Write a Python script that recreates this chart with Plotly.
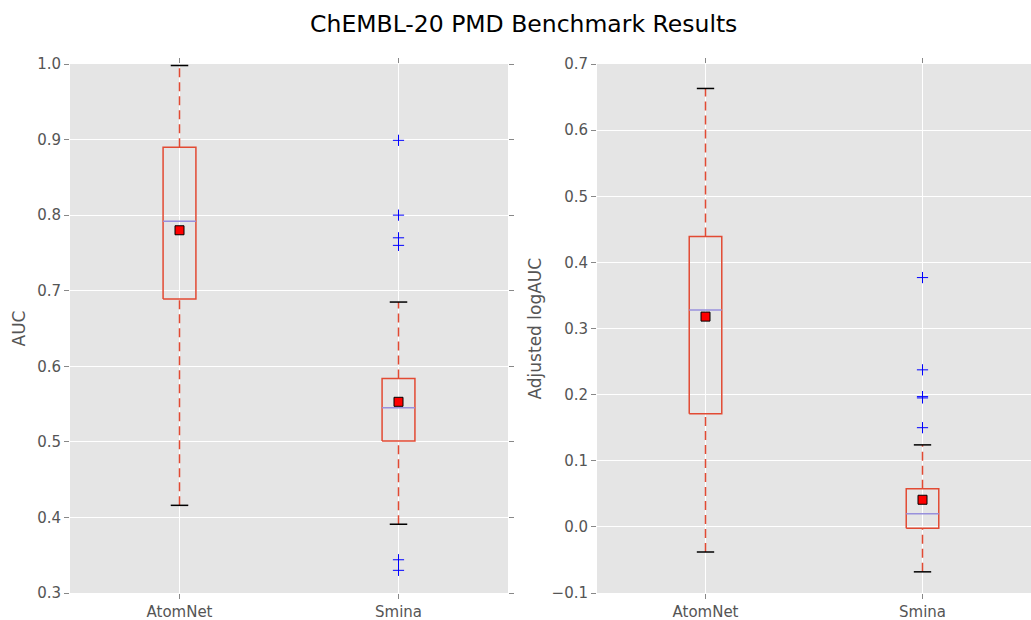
import plotly.graph_objects as go

# ---- data ----
methods = ["AtomNet", "Smina"]

auc_q1 = [0.689, 0.501]
auc_median = [0.792, 0.545]
auc_q3 = [0.890, 0.584]
auc_low = [0.416, 0.391]
auc_high = [0.998, 0.685]
auc_mean = [0.780, 0.553]
auc_outliers = [[], [0.899, 0.800, 0.770, 0.760, 0.344, 0.330]]

log_q1 = [0.171, -0.002]
log_median = [0.328, 0.020]
log_q3 = [0.439, 0.0575]
log_low = [-0.038, -0.068]
log_high = [0.663, 0.124]
log_mean = [0.318, 0.041]
log_outliers = [[], [0.377, 0.2375, 0.197, 0.195, 0.150]]

# ---- styling ----
BOX_C = "#E24A33"
MED_C = "#9890DC"
BG = "#E5E5E5"
TXT = "#555555"
FONT = "DejaVu Sans"
BW = 0.075   # half box width (x units)
CW = 0.04    # half cap width

fig = go.Figure()


def add_boxes(q1, med, q3, lo, hi, mean, outl, xa, ya):
    for i, _ in enumerate(methods):
        c = i + 1
        # whiskers (dashed)
        for a, b in ((lo[i], q1[i]), (q3[i], hi[i])):
            fig.add_trace(go.Scatter(x=[c, c], y=[a, b], mode="lines",
                                     line=dict(color=BOX_C, width=1.5, dash="9px,5px"),
                                     xaxis=xa, yaxis=ya, hoverinfo="skip", showlegend=False))
        # caps
        for v in (lo[i], hi[i]):
            fig.add_trace(go.Scatter(x=[c - CW, c + CW], y=[v, v], mode="lines",
                                     line=dict(color="black", width=1.5),
                                     xaxis=xa, yaxis=ya, hoverinfo="skip", showlegend=False))
        # box
        fig.add_trace(go.Scatter(x=[c - BW, c + BW, c + BW, c - BW, c - BW],
                                 y=[q1[i], q1[i], q3[i], q3[i], q1[i]], mode="lines",
                                 line=dict(color=BOX_C, width=1.5),
                                 xaxis=xa, yaxis=ya, hoverinfo="skip", showlegend=False))
        # median
        fig.add_trace(go.Scatter(x=[c - BW, c + BW], y=[med[i], med[i]], mode="lines",
                                 line=dict(color=MED_C, width=1.5),
                                 xaxis=xa, yaxis=ya, hoverinfo="skip", showlegend=False))
        # outliers
        if outl[i]:
            fig.add_trace(go.Scatter(x=[c] * len(outl[i]), y=outl[i], mode="markers",
                                     marker=dict(symbol="cross-thin", size=8,
                                                 line=dict(color="blue", width=1)),
                                     xaxis=xa, yaxis=ya, showlegend=False))
        # mean
        fig.add_trace(go.Scatter(x=[c], y=[mean[i]], mode="markers",
                                 marker=dict(symbol="square", size=9, color="red",
                                             line=dict(color="black", width=1)),
                                 xaxis=xa, yaxis=ya, showlegend=False))


add_boxes(auc_q1, auc_median, auc_q3, auc_low, auc_high, auc_mean, auc_outliers, "x", "y")
add_boxes(log_q1, log_median, log_q3, log_low, log_high, log_mean, log_outliers, "x2", "y2")

W, H = 1031, 620
common_x = dict(range=[0.5, 2.5], tickvals=[1, 2], ticktext=methods,
                showgrid=True, gridcolor="white", gridwidth=1, zeroline=False,
                ticks="outside", ticklen=5, tickcolor="#888888", mirror="ticks",
                showline=False, tickfont=dict(family=FONT, size=15, color=TXT))
common_y = dict(showgrid=True, gridcolor="white", gridwidth=1, zeroline=False,
                ticks="outside", ticklen=5, tickcolor="#888888", mirror="ticks",
                showline=False, tickfont=dict(family=FONT, size=15, color=TXT),
                dtick=0.1, tickformat=".1f")

fig.update_layout(
    width=W, height=H,
    margin=dict(l=0, r=0, t=64, b=27),
    paper_bgcolor="white", plot_bgcolor=BG,
    font=dict(family=FONT, color=TXT),
    title=dict(text="ChEMBL-20 PMD Benchmark Results", x=0.508, xanchor="center",
               y=1 - 24 / H, yanchor="middle", yref="container",
               font=dict(family=FONT, size=23.5, color="black")),
    xaxis=dict(domain=[70 / W, 508 / W], anchor="y", **common_x),
    yaxis=dict(domain=[0, 1], anchor="x", range=[0.3, 1.0], tick0=0.3, **common_y),
    xaxis2=dict(domain=[597 / W, 1.0], anchor="y2", **common_x),
    yaxis2=dict(domain=[0, 1], anchor="x2", range=[-0.1, 0.7], tick0=-0.1, **common_y),
    annotations=[
        dict(text="AUC", x=18 / W, y=0.5, xref="paper", yref="paper", textangle=-90,
             showarrow=False, xanchor="center", yanchor="middle",
             font=dict(family=FONT, size=17, color=TXT)),
        dict(text="Adjusted logAUC", x=534 / W, y=0.5, xref="paper", yref="paper",
             textangle=-90, showarrow=False, xanchor="center", yanchor="middle",
             font=dict(family=FONT, size=17, color=TXT)),
    ],
)

fig.write_html("out.html", config={"displayModeBar": False})

# remove the default page margin so the figure fills the window exactly
with open("out.html", "r", encoding="utf-8") as f:
    html = f.read()
html = html.replace("<head>", "<head><style>html,body{margin:0;padding:0;overflow:hidden;}</style>", 1)
with open("out.html", "w", encoding="utf-8") as f:
    f.write(html)
